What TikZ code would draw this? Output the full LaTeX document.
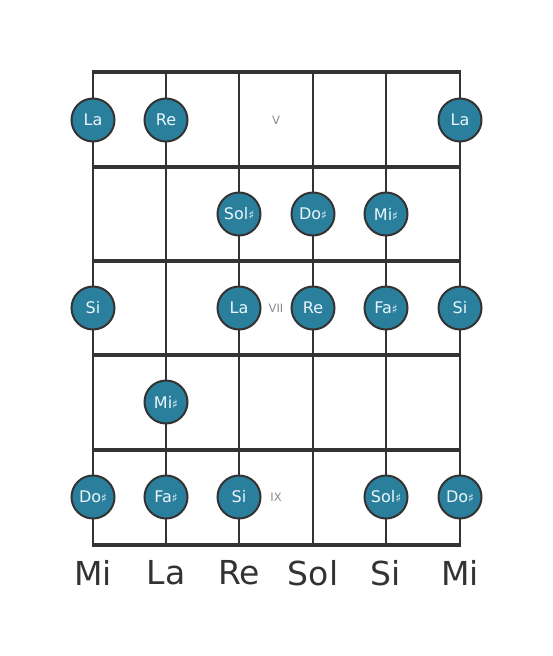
\documentclass[tikz,border=0pt]{standalone}
\usepackage{fontspec}
\setmainfont{DejaVu Sans}
\definecolor{notefill}{HTML}{2A7F9D}
\definecolor{linec}{HTML}{333333}
\definecolor{notetext}{HTML}{EAF6FA}
\definecolor{fretlab}{HTML}{8A8A8A}
\newcommand{\shp}{{\fontsize{12}{12}\selectfont ♯}}
\tikzset{
  stringline/.style={draw=linec, line width=2.5pt},
  fretline/.style={draw=linec, line width=4.2pt},
  note/.style={circle, fill=notefill, draw=linec, line width=2pt, minimum size=43pt, inner sep=0pt,
    text=notetext, font=\fontsize{16}{16}\selectfont},
  fretnum/.style={text=fretlab, font=\fontsize{11.5}{11.5}\selectfont, inner sep=0pt},
  strname/.style={text=linec, font=\fontsize{33}{33}\selectfont, inner sep=0pt}
}
\begin{document}
\begin{tikzpicture}[x=1pt,y=-1pt]
\useasboundingbox (0,0) rectangle (553,656);
% strings
\foreach \x [count=\i] in {93,166,239,313,386,460} {
  \coordinate (st\i) at (\x,70);
  \coordinate (sb\i) at (\x,547);
  \draw[stringline] (st\i) -- (sb\i);
}
% frets
\foreach \y [count=\j] in {72,167,261,355,450,545} {
  \coordinate (fl\j) at (91.75,\y);
  \coordinate (fr\j) at (461.25,\y);
  \draw[fretline] (fl\j) -- (fr\j);
}
% fret numbers
\node[fretnum] (f5) at (276,120) {V};
\node[fretnum] (f7) at (276,308) {VII};
\node[fretnum] (f9) at (276,497) {IX};
% notes
\node[note] (n11) at (93,120) {La};
\node[note] (n12) at (166,120) {Re};
\node[note] (n16) at (460,120) {La};
\node[note] (n23) at (239,214) {Sol\shp};
\node[note] (n24) at (313,214) {Do\shp};
\node[note] (n25) at (386,214) {Mi\shp};
\node[note] (n31) at (93,308) {Si};
\node[note] (n33) at (239,308) {La};
\node[note] (n34) at (313,308) {Re};
\node[note] (n35) at (386,308) {Fa\shp};
\node[note] (n36) at (460,308) {Si};
\node[note] (n42) at (166,402) {Mi\shp};
\node[note] (n51) at (93,497) {Do\shp};
\node[note] (n52) at (166,497) {Fa\shp};
\node[note] (n53) at (239,497) {Si};
\node[note] (n55) at (386,497) {Sol\shp};
\node[note] (n56) at (460,497) {Do\shp};
% string names
\node[strname] (s1) at (93,573) {Mi};
\node[strname] (s2) at (166,573) {La};
\node[strname] (s3) at (239,573) {Re};
\node[strname] (s4) at (313,573) {Sol};
\node[strname] (s5) at (386,573) {Si};
\node[strname] (s6) at (460,573) {Mi};
\end{tikzpicture}
\end{document}
